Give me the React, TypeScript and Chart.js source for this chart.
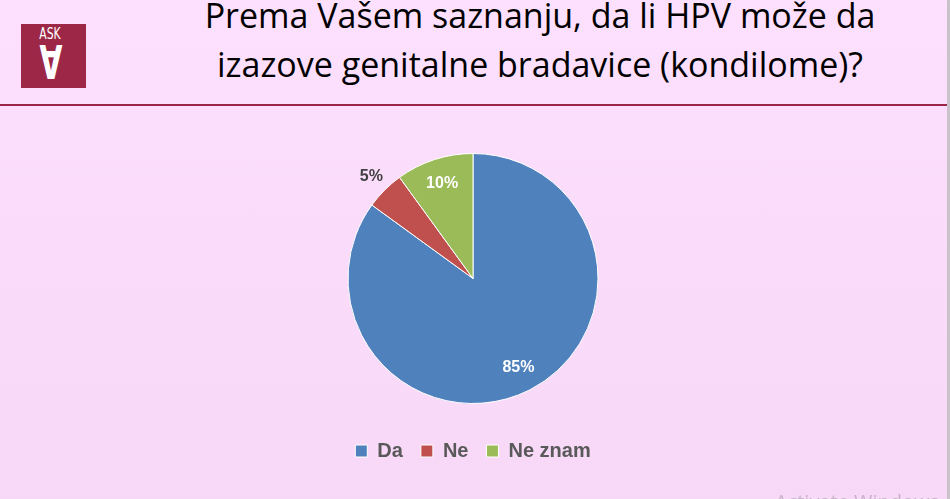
import React, { useEffect, useRef } from "react";
import { Chart, registerables } from "chart.js";

Chart.register(...registerables);

const categories = ["Da", "Ne", "Ne znam"];
const shares = [85, 5, 10];
const sliceColors = ["#4F81BD", "#C0504D", "#9BBB59"];
const titleLines = [
  "Prema Vašem saznanju, da li HPV može da",
  "izazove genitalne bradavice (kondilome)?",
];

// Percentage labels: inside the slice, or just outside for thin slices.
const sliceLabels = {
  id: "sliceLabels",
  afterDatasetsDraw(chart: any) {
    const { ctx } = chart;
    const meta = chart.getDatasetMeta(0);
    const data = chart.data.datasets[0].data as number[];
    ctx.save();
    ctx.font = "bold 16px 'Liberation Sans', Arial, sans-serif";
    ctx.textAlign = "center";
    ctx.textBaseline = "middle";
    meta.data.forEach((arc: any, i: number) => {
      const { x, y, startAngle, endAngle, outerRadius } = arc.getProps(
        ["x", "y", "startAngle", "endAngle", "outerRadius"],
        true
      );
      const mid = (startAngle + endAngle) / 2;
      const outside = data[i] < 7;
      const r = outerRadius * (outside ? 1.15 : 0.8);
      ctx.fillStyle = outside ? "#404040" : "#FFFFFF";
      ctx.fillText(data[i] + "%", x + Math.cos(mid) * r, y + Math.sin(mid) * r);
    });
    ctx.restore();
  },
};

function PieChart() {
  const ref = useRef<HTMLCanvasElement>(null);
  useEffect(() => {
    if (!ref.current) return;
    const chart = new Chart(ref.current, {
      type: "pie",
      data: {
        labels: categories,
        datasets: [
          {
            data: shares,
            backgroundColor: sliceColors,
            borderColor: "#FFFFFF",
            borderWidth: 1,
            radius: 125,
          } as any,
        ],
      },
      options: {
        animation: false,
        responsive: false,
        layout: { padding: { top: 134, bottom: 28, left: 0, right: 4 } },
        plugins: {
          tooltip: { enabled: false },
          legend: {
            position: "bottom",
            labels: {
              boxWidth: 12,
              boxHeight: 12,
              padding: 18,
              color: "#595959",
              font: { family: "'Liberation Sans', Arial, sans-serif", size: 20, weight: "bold" },
            },
          },
        },
      },
      plugins: [sliceLabels],
    });
    return () => chart.destroy();
  }, []);
  return (
    <canvas
      ref={ref}
      width={950}
      height={499}
      style={{ position: "absolute", left: 0, top: 0, width: 950, height: 499 }}
    />
  );
}

export default function App() {
  return (
    <div
      style={{
        position: "fixed",
        left: 0,
        top: 0,
        width: 950,
        height: 499,
        overflow: "hidden",
        background: "linear-gradient(180deg, #FDE0FD 0%, #FADCFA 50%, #F8D8F7 100%)",
      }}
    >
      {/* logo */}
      <div
        style={{
          position: "absolute",
          left: 21,
          top: 24,
          width: 65,
          height: 64,
          background: "#9C2747",
          color: "#FFFFFF",
          fontFamily: "'DejaVu Sans Condensed', 'DejaVu Sans', sans-serif",
        }}
      >
        <div
          style={{
            position: "absolute",
            left: 0,
            width: 58,
            top: 2,
            textAlign: "center",
            fontSize: 15,
            lineHeight: "16px",
            transform: "scaleX(0.8)",
          }}
        >
          ASK
        </div>
        <div
          style={{
            position: "absolute",
            left: 0,
            width: 60,
            top: 14,
            textAlign: "center",
            fontSize: 46,
            fontWeight: "bold",
            lineHeight: "46px",
            transform: "rotate(180deg) scaleX(0.72)",
          }}
        >
          A
        </div>
      </div>
      {/* title */}
      <div
        style={{
          position: "absolute",
          left: 140,
          width: 800,
          top: -9,
          textAlign: "center",
          fontFamily: "'Open Sans', 'Noto Sans', sans-serif",
          fontSize: 34,
          lineHeight: "49px",
          color: "#000000",
        }}
      >
        {titleLines.map((t) => (
          <div key={t}>{t}</div>
        ))}
      </div>
      {/* divider */}
      <div
        style={{
          position: "absolute",
          left: 0,
          top: 104,
          width: 948,
          height: 2,
          background: "#9B2546",
        }}
      />
      {/* right border */}
      <div
        style={{
          position: "absolute",
          left: 947,
          top: 0,
          width: 3,
          height: 499,
          background: "#C9C2CA",
        }}
      />
      <PieChart />
      <div
        style={{
          position: "absolute",
          left: 775,
          top: 488,
          fontFamily: "'Open Sans', sans-serif",
          fontSize: 20,
          color: "rgba(120,110,120,0.35)",
          whiteSpace: "nowrap",
        }}
      >
        Activate Windows
      </div>
    </div>
  );
}
